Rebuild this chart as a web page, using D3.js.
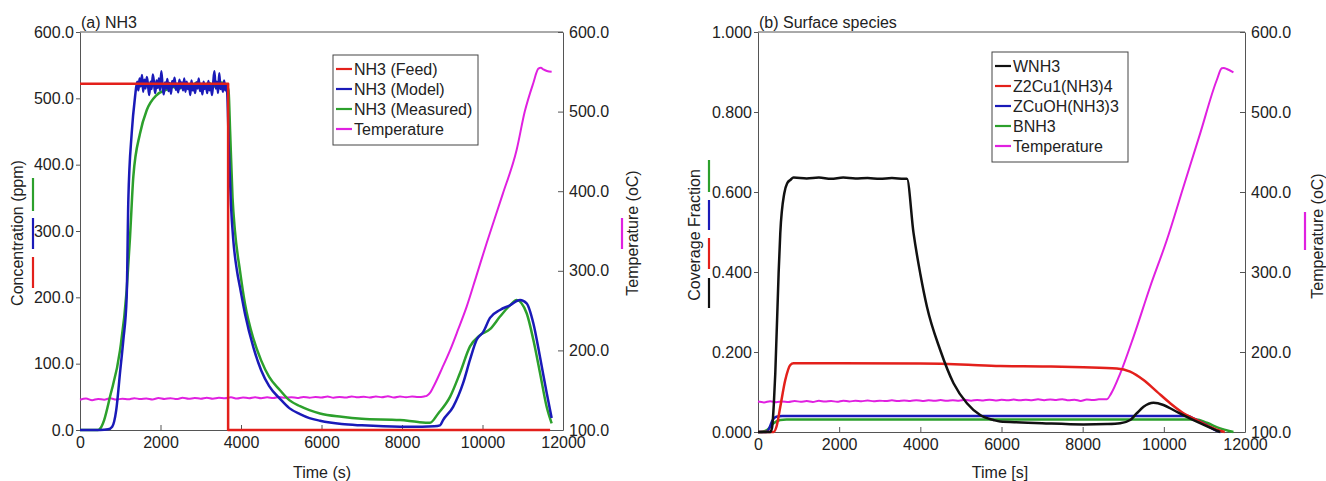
<!DOCTYPE html>
<html><head><meta charset="utf-8">
<script src="https://cdn.jsdelivr.net/npm/d3@7"></script>
<style>
body{margin:0;background:#fff;}
svg{display:block;font-family:"Liberation Sans",Arial,sans-serif;}
.axis path,.axis line{stroke:#555;}
.axis text{font-size:16px;fill:#222;font-family:"Liberation Sans",Arial,sans-serif;}
</style></head><body>
<svg id="chart" width="1326" height="481"></svg>
<script>
// ---------- Ticks ----------
const timeTicks = [0,2000,4000,6000,8000,10000,12000];
const concTicks = [0,100,200,300,400,500,600];
const tempTicks = [100,200,300,400,500,600];
const covTicks = [0,0.2,0.4,0.6,0.8,1.0];

// ---------- Panel (a) NH3 ----------
const nh3Feed = [[0,522],[3680,522],[3680,0],[11680,0]];
const nh3Model = [[0,0],[500,0],[700,1],[800,5],[900,30],[1000,90],[1077,136],[1160,201],[1201,347],[1284,447],[1367,502],
 [1420,525],[1450,512],[1480,530],[1510,518],[1540,535],[1570,510],[1600,528],[1630,515],[1660,532],[1690,520],[1720,505],
 [1750,525],[1780,514],[1810,536],[1840,522],[1870,508],[1900,527],[1930,516],[1960,530],[1990,512],[2020,541],[2050,520],
 [2080,506],[2110,524],[2140,515],[2170,529],[2200,511],[2230,523],[2260,507],[2290,526],[2320,518],[2350,531],[2380,513],
 [2410,522],[2440,509],[2470,528],[2500,516],[2530,524],[2560,512],[2590,530],[2620,510],[2650,525],[2680,514],[2710,521],
 [2740,505],[2770,527],[2800,512],[2830,520],[2860,508],[2890,524],[2920,515],[2950,530],[2980,511],[3010,522],[3040,506],
 [3070,525],[3100,514],[3130,520],[3160,508],[3190,526],[3220,512],[3250,519],[3280,505],[3310,524],[3340,541],[3370,515],
 [3400,525],[3430,508],[3460,538],[3490,514],[3520,522],[3550,510],[3580,527],[3610,512],[3640,520],[3660,505],
 [3700,420],[3750,340],[3810,285],[3900,240],[3975,215],[4100,175],[4306,125],[4500,90],[4700,66],[4969,47],[5200,33],
 [5466,24],[5700,18],[5963,14],[6500,9],[7000,7],[7950,5],[8500,5],[8800,5.5],[8944,7],[9020,15],[9270,35],[9520,71],[9690,106],
 [9855,136],[10020,148],[10186,169],[10435,181],[10683,188],[10932,196],[11097,191],[11263,161],[11429,110],[11594,56],[11718,18]];
const nh3Measured = [[0,0],[450,0],[500,2],[600,15],[745,50],[994,120],[1160,211],[1242,290],[1325,382],[1491,447],[1657,482],
 [1905,505],[2150,513],[2318,517],[2450,514],[2600,522],[2750,516],[2900,524],[3050,517],[3200,523],[3350,518],[3500,524],
 [3650,519],[3690,512],[3730,450],[3790,350],[3850,300],[3975,240],[4100,190],[4306,138],[4500,105],[4700,80],[4969,60],
 [5200,45],[5466,36],[5700,30],[5963,25],[6500,20],[7000,17],[7950,15],[8400,12],[8696,11],[8900,25],[9193,50],[9441,86],
 [9690,126],[9938,143],[10186,152],[10435,171],[10683,188],[10849,196],[11097,176],[11263,136],[11429,86],[11594,35],[11718,10]];
const tempA = [[0,138],[150,139.5],[300,137.5],[450,139],[600,138],[750,139.8],[900,138.2],[1050,139.4],[1200,138.6],[1350,140],
 [1500,138.8],[1650,139.6],[1800,138.4],[1950,140.2],[2100,139],[2250,140],[2400,138.8],[2550,140.4],[2700,139.2],[2850,140.2],
 [3000,139.4],[3150,140.6],[3300,139.4],[3450,140.4],[3600,139.8],[3750,141],[3900,139.6],[4050,140.8],[4200,140],[4350,141.2],
 [4500,140],[4650,141],[4800,140.2],[4950,141.4],[5100,140.4],[5250,141.2],[5400,140.2],[5550,141.6],[5700,140.6],[5850,141.4],
 [6000,140.8],[6150,142],[6300,140.6],[6450,141.6],[6600,140.8],[6750,142.2],[6900,141],[7050,141.8],[7200,140.8],[7350,142],
 [7500,141.2],[7650,142.4],[7800,140.8],[7950,142],[8100,141.2],[8250,142],[8400,141.4],[8550,142.2],[8613,143],[8700,147],
 [8778,154],[9000,178],[9193,200],[9400,227],[9607,255],[9850,294],[10104,335],[10500,396],[10849,452],[11050,500],[11263,536],
 [11388,554],[11450,555],[11512,553],[11600,551],[11718,550]];

// ---------- Panel (b) Surface species ----------
const wnh3 = [[0,0],[300,0],[345,0.01],[390,0.07],[426,0.147],[508,0.397],[549,0.497],[648,0.597],[720,0.622],[796,0.63],[877,0.636],
 [1200,0.634],[1500,0.636],[1800,0.633],[2100,0.636],[2400,0.634],[2700,0.635],[3000,0.633],[3300,0.635],[3600,0.633],[3670,0.633],
 [3833,0.497],[4000,0.395],[4163,0.313],[4490,0.205],[4818,0.122],[5148,0.072],[5475,0.0425],[5803,0.03],[5968,0.026],[6500,0.024],
 [7000,0.022],[8020,0.019],[8600,0.02],[8924,0.022],[9170,0.03],[9335,0.047],[9500,0.063],[9745,0.073],[9990,0.0675],[10236,0.055],
 [10566,0.038],[10894,0.022],[11222,0.007],[11387,0]];
const z2cu = [[0,0],[384,0],[460,0.015],[549,0.063],[672,0.13],[796,0.1675],[877,0.172],[2000,0.172],[4000,0.171],[5000,0.169],
 [5968,0.165],[7000,0.164],[8020,0.162],[8843,0.159],[9170,0.151],[9500,0.13],[9828,0.101],[10156,0.072],[10484,0.047],
 [10812,0.03],[11140,0.013],[11387,0.003],[11500,0]];
const zcuoh = [[0,0],[200,0],[280,0.01],[350,0.028],[450,0.038],[600,0.04],[3000,0.04],[6000,0.04],[9000,0.04],[10600,0.04],
 [10730,0.034],[11058,0.017],[11305,0.003],[11400,0]];
const bnh3 = [[0,0],[56,0],[220,0.005],[384,0.022],[549,0.03],[700,0.031],[3000,0.031],[6000,0.031],[9000,0.031],[10800,0.031],
 [11058,0.023],[11387,0.009],[11633,0.002],[11715,0]];
const tempB = [[0,138],[150,137],[300,138.5],[450,137.2],[600,138.2],[750,137.6],[900,138.8],[1050,137.8],[1200,138.6],[1350,137.6],
 [1500,139],[1650,138],[1800,138.8],[1950,137.8],[2100,139.2],[2250,138.2],[2400,139],[2550,138.4],[2700,139.4],[2850,138.4],
 [3000,139.2],[3150,138.6],[3300,139.6],[3450,138.6],[3600,139.4],[3750,138.8],[3900,139.8],[4050,138.8],[4200,139.6],[4350,139],
 [4500,140],[4650,139],[4800,139.8],[4950,139.2],[5100,140.2],[5250,139.2],[5400,140],[5550,139.4],[5700,140.4],[5850,139.4],
 [6000,140.2],[6150,139.6],[6300,140.6],[6450,139.6],[6600,140.4],[6750,139.8],[6900,140.8],[7050,139.8],[7200,140.6],[7350,140],
 [7500,141],[7650,139.6],[7800,140.4],[7950,138.8],[8100,140.6],[8250,140],[8400,140.8],[8597,141],[8700,148],[8924,173],
 [9253,219],[9663,281.6],[10074,340],[10484,406.6],[10894,473],[11305,540],[11428,554.6],[11480,555],[11552,553.7],[11715,549.6]];

const legendA = ["NH3 (Feed)","NH3 (Model)","NH3 (Measured)","Temperature"];
const legendB = ["WNH3","Z2Cu1(NH3)4","ZCuOH(NH3)3","BNH3","Temperature"];

const C = {red:"#e3201b", blue:"#1a1ab8", green:"#2ca02c", mag:"#e020e0", black:"#111"};

const svg = d3.select("#chart");

function panel(o){
  const x = d3.scaleLinear().domain([0,12000]).range([o.x0,o.x1]);
  const y = d3.scaleLinear().domain(o.yDom).range([o.y1,o.y0]);
  const yT = d3.scaleLinear().domain([100,600]).range([o.y1,o.y0]);
  const g = svg.append("g");

  g.append("line").attr("x1",o.x0).attr("x2",o.x1).attr("y1",o.y0).attr("y2",o.y0).attr("stroke","#555");

  g.append("g").attr("class","axis").attr("transform",`translate(0,${o.y1})`)
    .call(d3.axisBottom(x).tickValues(timeTicks).tickFormat(d3.format("d")).tickSizeInner(-5).tickSizeOuter(0).tickPadding(7));
  g.append("g").attr("class","axis").attr("transform",`translate(${o.x0},0)`)
    .call(d3.axisLeft(y).tickValues(o.yTicks).tickFormat(d3.format(o.yFmt)).tickSizeInner(4).tickSizeOuter(0).tickPadding(2));
  g.append("g").attr("class","axis").attr("transform",`translate(${o.x1},0)`)
    .call(d3.axisRight(yT).tickValues(tempTicks).tickFormat(d3.format(".1f")).tickSizeInner(-5).tickSizeOuter(0).tickPadding(6));

  const lineL = d3.line().x(d=>x(d[0])).y(d=>y(d[1]));
  const lineT = d3.line().x(d=>x(d[0])).y(d=>yT(d[1]));
  o.series.forEach(s=>{
    const gen = (s.temp ? lineT : lineL).curve(s.step ? d3.curveLinear : d3.curveMonotoneX);
    g.append("path").attr("d", gen(s.data))
      .attr("fill","none").attr("stroke",s.color).attr("stroke-width",s.w||2.5).attr("stroke-linejoin","round");
  });

  g.append("text").attr("x",o.x0+1).attr("y",o.y0-4).attr("font-size",16).attr("fill","#222").text(o.title);
  g.append("text").attr("transform",`translate(${o.ylabX},${o.ylabY}) rotate(-90)`).attr("text-anchor","middle")
    .attr("font-size",16).attr("fill","#222").text(o.ylab);
  g.append("text").attr("transform",`translate(${o.tlabX},${o.tlabY}) rotate(-90)`).attr("text-anchor","middle")
    .attr("font-size",16).attr("fill","#222").text("Temperature (oC)");
  g.append("text").attr("x",o.xlabX).attr("y",478).attr("text-anchor","middle")
    .attr("font-size",16).attr("fill","#222").text(o.xlab);
  o.indicators.forEach(b=>{
    g.append("line").attr("x1",b.x).attr("x2",b.x).attr("y1",b.ya).attr("y2",b.yb)
      .attr("stroke",b.c).attr("stroke-width",2.2);
  });
  const L = o.legend;
  g.append("rect").attr("x",L.x).attr("y",L.y).attr("width",L.w).attr("height",L.h)
    .attr("fill","#fff").attr("stroke","#444").attr("stroke-width",1);
  L.items.forEach((t,i)=>{
    const yy = L.y + L.first + i*L.step;
    g.append("line").attr("x1",L.x+3).attr("x2",L.x+19).attr("y1",yy).attr("y2",yy)
      .attr("stroke",L.colors[i]).attr("stroke-width",2.2);
    g.append("text").attr("x",L.x+21).attr("y",yy+6).attr("font-size",16).attr("fill","#222").text(t);
  });
}

panel({
  x0:80, x1:563, y0:32, y1:430, yDom:[0,600], yTicks:concTicks, yFmt:".1f",
  title:"(a) NH3", ylab:"Concentration (ppm)", ylabX:23, ylabY:233, tlabX:638, tlabY:233,
  xlab:"Time (s)", xlabX:322,
  series:[
    {data:tempA, color:C.mag, temp:true, w:2},
    {data:nh3Measured, color:C.green},
    {data:nh3Model, color:C.blue},
    {data:nh3Feed, color:C.red, step:true}
  ],
  indicators:[{x:33,ya:178,yb:211,c:C.green},{x:33,ya:218,yb:249,c:C.blue},{x:33,ya:257,yb:288,c:C.red},{x:622,ya:218,yb:249,c:C.mag}],
  legend:{x:333,y:55,w:145,h:90,first:14,step:20,items:legendA,colors:[C.red,C.blue,C.green,C.mag]}
});

panel({
  x0:758, x1:1245, y0:32, y1:432, yDom:[0,1], yTicks:covTicks, yFmt:".3f",
  title:"(b) Surface species", ylab:"Coverage Fraction", ylabX:700, ylabY:235, tlabX:1323, tlabY:236,
  xlab:"Time [s]", xlabX:1000,
  series:[
    {data:tempB, color:C.mag, temp:true, w:2},
    {data:bnh3, color:C.green},
    {data:zcuoh, color:C.blue},
    {data:z2cu, color:C.red},
    {data:wnh3, color:C.black}
  ],
  indicators:[{x:709,ya:160,yb:192,c:C.green},{x:709,ya:200,yb:230,c:C.blue},{x:709,ya:238,yb:269,c:C.red},{x:709,ya:278,yb:308,c:C.black},{x:1305,ya:212,yb:250,c:C.mag}],
  legend:{x:992,y:52,w:136,h:110,first:14,step:20,items:legendB,colors:[C.black,C.red,C.blue,C.green,C.mag]}
});
</script>
</body></html>
